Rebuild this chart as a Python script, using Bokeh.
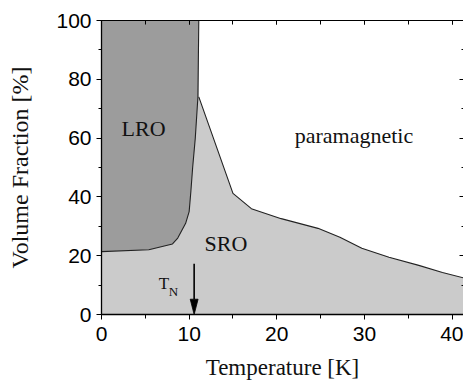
from bokeh.plotting import figure
from bokeh.models import Range1d, LinearAxis, SingleIntervalTicker
from bokeh.core.properties import value
from bokeh.embed import file_html
from bokeh.resources import INLINE

# LRO / SRO boundary (temperature K, volume fraction %)
lro_T = [0.0, 5.4, 8.1, 8.7, 9.6, 10.0, 10.2, 10.4, 10.7, 11.0, 11.1]
lro_V = [21.4, 22.0, 24.0, 26.0, 31.0, 35.0, 42.0, 50.0, 60.0, 74.0, 100.0]
# SRO / paramagnetic boundary
sro_T = [11.1, 15.0, 17.1, 20.5, 24.7, 27.2, 29.7, 32.8, 36.2, 38.9, 41.5]
sro_V = [74.0, 41.2, 36.0, 32.6, 29.3, 26.3, 22.5, 19.5, 16.7, 14.3, 12.3]

# Region labels
label_text = ["LRO", "paramagnetic", "SRO"]
label_T = [4.8, 28.8, 14.2]
label_V = [63.3, 60.9, 24.1]

# Neel temperature marker
tn_T = 10.57
tn_from = 17.3

x_end = 41.3
y_end = 100.0

p = figure(width=463, height=390, output_backend="svg", toolbar_location=None,
           x_range=Range1d(0, x_end), y_range=Range1d(0, y_end),
           min_border_left=101, min_border_top=20, min_border_right=0, min_border_bottom=76)
p.outline_line_color = None
p.grid.visible = False
p.background_fill_color = "white"
p.border_fill_color = "white"

# SRO (light gray) region: everything under SRO boundary, including under LRO
sro_xs = [0.0, 0.0, lro_T[-1]] + sro_T + [x_end]
sro_ys = [0.0, y_end, y_end] + sro_V + [0.0]
p.patch(sro_xs, sro_ys, fill_color="#cbcbcb", line_color=None)

# LRO (dark gray)
lro_xs = lro_T + [0.0]
lro_ys = lro_V + [y_end]
p.patch(lro_xs, lro_ys, fill_color="#9c9c9c", line_color=None)

p.line(lro_T, lro_V, line_color="#222222", line_width=1.1)
p.line(sro_T, sro_V, line_color="#222222", line_width=1.1)

p.text(x=label_T, y=label_V, text=label_text, text_font=value("Liberation Serif"),
       text_font_size="22px", text_align="center", text_baseline="middle", text_color="#111111")

# T_N label
p.text(x=[tn_T - 3.45], y=[tn_from - 6.8], text=["T"], text_font=value("Liberation Serif"),
       text_font_size="17px", text_align="center", text_baseline="middle", text_color="#111111")
p.text(x=[tn_T - 2.35], y=[tn_from - 9.6], text=["N"], text_font=value("Liberation Serif"),
       text_font_size="13px", text_align="center", text_baseline="middle", text_color="#111111")

# arrow: shaft and narrow filled head (head ~0.9 K wide, ~5 % long)
head_w = 0.9
head_len = 5.2
p.segment(x0=[tn_T], y0=[tn_from], x1=[tn_T], y1=[head_len], line_color="black", line_width=1.6)
p.patch([tn_T - head_w / 2, tn_T + head_w / 2, tn_T], [head_len, head_len, 0.0],
        fill_color="black", line_color="black", line_width=0.8)

# Axes styling
for ax in [p.xaxis[0], p.yaxis[0]]:
    ax.axis_line_color = "black"
    ax.axis_line_width = 1.3
    ax.major_tick_line_color = "black"
    ax.minor_tick_line_color = "black"
    ax.major_label_text_font = "Liberation Sans"
    ax.major_label_text_font_size = "21px"
    ax.major_label_text_color = "black"
    ax.axis_label_text_font = "Liberation Serif"
    ax.axis_label_text_font_style = "normal"
    ax.axis_label_text_color = "#111111"
    ax.major_tick_in = 0
    ax.minor_tick_in = 0

p.xaxis[0].ticker = SingleIntervalTicker(interval=10, num_minor_ticks=2)
p.yaxis[0].ticker = SingleIntervalTicker(interval=20, num_minor_ticks=2)
p.xaxis[0].axis_label = "Temperature [K]"
p.yaxis[0].axis_label = "Volume Fraction [%]"
p.xaxis[0].axis_label_text_font_size = "23px"
p.yaxis[0].axis_label_text_font_size = "24px"
p.xaxis[0].major_tick_out = 5
p.xaxis[0].minor_tick_out = 4
p.yaxis[0].major_tick_out = 5
p.yaxis[0].minor_tick_out = 3
p.xaxis[0].major_label_standoff = 7
p.yaxis[0].major_label_standoff = 5
p.xaxis[0].axis_label_standoff = 11
p.yaxis[0].axis_label_standoff = 20

top = LinearAxis(ticker=SingleIntervalTicker(interval=10, num_minor_ticks=2),
                 axis_line_color="black", axis_line_width=1.0,
                 major_tick_in=4, major_tick_out=0, minor_tick_in=4, minor_tick_out=0,
                 major_label_text_font_size="1px", major_label_text_color=None,
                 major_label_standoff=0)
p.add_layout(top, "above")
right = LinearAxis(ticker=SingleIntervalTicker(interval=20, num_minor_ticks=2),
                   axis_line_color=None,
                   major_tick_in=4, major_tick_out=0, minor_tick_in=2, minor_tick_out=0,
                   major_label_text_font_size="1px", major_label_text_color=None,
                   major_label_standoff=0)
p.add_layout(right, "right")

open("out.html", "w").write(file_html(p, INLINE))
